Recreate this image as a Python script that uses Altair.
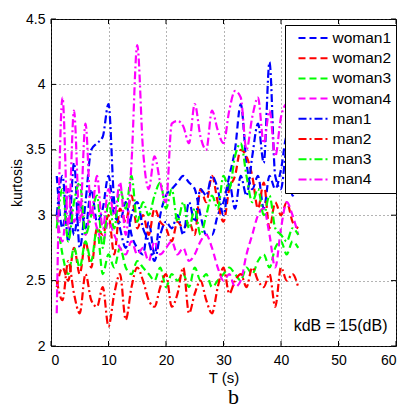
import altair as alt
import pandas as pd

T = list(range(1, 44))
woman1 = [3.3, 2.9, 3.2, 2.85, 3.1, 2.9, 3.2, 2.95, 3.05, 3.3, 3.0, 2.95, 3.1, 2.85, 2.75, 2.7, 2.95, 2.7, 3.0, 3.15, 3.2, 3.25, 3.3, 3.25, 3.2, 3.0, 2.85, 2.85, 3.0, 3.1, 3.3, 3.5, 3.85, 3.4, 3.2, 3.3, 3.05, 3.3, 3.2, 3.35, 3.6, 3.3, 3.4]
woman2 = [2.45, 2.6, 2.5, 2.75, 2.55, 2.8, 2.6, 2.9, 2.85, 3.0, 2.7, 3.05, 2.95, 3.15, 2.9, 3.0, 2.85, 3.05, 2.95, 2.9, 2.8, 2.95, 2.9, 2.95, 2.85, 3.2, 3.1, 3.3, 3.1, 2.95, 3.2, 3.3, 3.5, 3.45, 3.3, 3.05, 3.25, 2.9, 3.1, 3.0, 3.1, 2.95, 2.9]
woman3 = [3.0, 2.7, 2.55, 2.75, 2.6, 2.8, 2.65, 2.9, 2.55, 2.7, 2.6, 2.75, 2.6, 2.55, 2.65, 2.6, 2.55, 2.5, 2.6, 2.45, 2.55, 2.5, 2.55, 2.45, 2.6, 2.5, 2.55, 2.45, 2.5, 2.55, 2.6, 2.55, 2.5, 2.6, 2.55, 2.65, 2.7, 2.6, 2.75, 2.8, 2.7, 2.8, 2.75]
woman4 = [3.0, 2.8, 3.2, 2.95, 3.1, 2.85, 3.05, 2.9, 2.8, 2.95, 2.85, 2.75, 2.7, 2.8, 2.7, 2.75, 2.65, 2.8, 2.7, 2.75, 2.8, 2.7, 2.75, 2.65, 2.7, 2.8, 2.85, 2.75, 2.6, 2.5, 2.55, 2.45, 2.5, 2.7, 2.85, 3.0, 3.05, 2.85, 2.6, 2.9, 3.1, 3.0, 2.85]
man1 = [3.0, 3.3, 2.8, 3.4, 2.75, 3.1, 3.5, 3.55, 3.6, 3.85, 3.1, 2.9, 2.75, 3.0, 3.1, 2.9, 2.8, 2.65, 2.85, 2.95, 2.9, 3.0, 2.85, 3.1, 2.95, 3.2, 3.15, 3.3, 3.2, 3.0, 3.25, 3.05, 3.3, 3.15, 3.45, 3.7, 3.4, 4.17, 3.3, 3.2, 3.5, 3.15, 3.3]
man2 = [2.5, 2.35, 2.65, 2.4, 2.25, 2.55, 2.35, 2.3, 2.45, 2.15, 2.4, 2.55, 2.2, 2.45, 2.6, 2.5, 2.35, 2.3, 2.45, 2.55, 2.3, 2.4, 2.6, 2.25, 2.4, 2.5, 2.35, 2.25, 2.45, 2.6, 2.4, 2.5, 2.55, 2.45, 2.6, 2.5, 2.45, 2.55, 2.3, 2.6, 2.5, 2.55, 2.45]
man3 = [2.9, 3.2, 2.8, 3.1, 3.25, 2.85, 3.0, 3.15, 2.75, 3.1, 2.9, 3.2, 3.05, 3.3, 2.95, 3.1, 3.0, 3.15, 3.25, 3.05, 3.2, 2.95, 3.1, 2.9, 3.05, 2.85, 3.0, 3.15, 3.05, 3.3, 3.2, 3.45, 3.55, 3.3, 3.1, 3.2, 3.0, 3.15, 2.9, 2.85, 2.8, 2.9, 2.85]
man4 = [2.25, 3.9, 2.9, 3.8, 2.95, 3.7, 3.0, 3.3, 2.9, 3.2, 3.0, 3.25, 2.85, 3.4, 4.3, 3.5, 3.2, 3.45, 3.25, 3.1, 3.7, 3.72, 3.68, 3.55, 3.85, 3.6, 3.5, 3.8, 3.65, 3.55, 3.8, 3.95, 3.9, 3.5, 3.75, 3.9, 3.55, 3.8, 3.45, 3.75, 3.85, 3.7, 3.9]

series_names = ["woman1", "woman2", "woman3", "woman4", "man1", "man2", "man3", "man4"]
series_values = [woman1, woman2, woman3, woman4, man1, man2, man3, man4]
x_ticks = [0, 10, 20, 30, 40, 50, 60]
y_ticks = [2, 2.5, 3, 3.5, 4, 4.5]
note = "kdB = 15(dB)"
note_pos = [42.2, 2.15]

colors = ["#0000ff", "#ff0000", "#00ff00", "#ff00ff"] * 2
dashes = [[7, 4]] * 4 + [[8, 3, 2, 3]] * 4

rows = []
for name, vals in zip(series_names, series_values):
    for t, v in zip(T, vals):
        rows.append({"T": t, "kurtosis": v, "series": name})
df = pd.DataFrame(rows)

W, H = 345, 327
FONT = "Liberation Sans"
xs = alt.Scale(domain=[0, 60], nice=False, zero=False)
ys = alt.Scale(domain=[2, 4.5], nice=False, zero=False)

legend = alt.Legend(
    title=None, orient="none", legendX=234, legendY=6,
    fillColor="white", strokeColor="black", padding=4.5, rowPadding=3.2,
    symbolType="M-1,0H3", symbolSize=225, symbolStrokeWidth=2, symbolOffset=8,
    labelFontSize=15.5, labelFont=FONT, labelColor="black", labelOffset=18,
    labelLimit=200,
)

lines = alt.Chart(df).mark_line(strokeWidth=2.2, interpolate="monotone").encode(
    x=alt.X("T:Q", scale=xs, axis=alt.Axis(
        title="T (s)", values=x_ticks, grid=True, format="d",
        labelPadding=7, titlePadding=3)),
    y=alt.Y("kurtosis:Q", scale=ys, axis=alt.Axis(
        title="kurtosis", values=y_ticks, grid=True, format="~g",
        labelPadding=6, titlePadding=1.5, titleFontSize=14)),
    color=alt.Color("series:N", scale=alt.Scale(domain=series_names, range=colors), legend=legend),
    strokeDash=alt.StrokeDash("series:N", scale=alt.Scale(domain=series_names, range=dashes), legend=legend),
)

xt = pd.DataFrame({"T": x_ticks})
yt = pd.DataFrame({"kurtosis": y_ticks})
tick_x_bottom = alt.Chart(xt).mark_rule(color="black", strokeWidth=1).encode(
    x=alt.X("T:Q", scale=xs), y=alt.value(H), y2=alt.value(H - 5))
tick_x_top = alt.Chart(xt).mark_rule(color="black", strokeWidth=1).encode(
    x=alt.X("T:Q", scale=xs), y=alt.value(0), y2=alt.value(5))
tick_y_left = alt.Chart(yt).mark_rule(color="black", strokeWidth=1).encode(
    y=alt.Y("kurtosis:Q", scale=ys), x=alt.value(0), x2=alt.value(5))
tick_y_right = alt.Chart(yt).mark_rule(color="black", strokeWidth=1).encode(
    y=alt.Y("kurtosis:Q", scale=ys), x=alt.value(W), x2=alt.value(W - 5))

note_df = pd.DataFrame({"T": [note_pos[0]], "kurtosis": [note_pos[1]], "label": [note]})
note_layer = alt.Chart(note_df).mark_text(
    align="left", baseline="middle", font=FONT, fontSize=16, color="black"
).encode(x=alt.X("T:Q", scale=xs), y=alt.Y("kurtosis:Q", scale=ys), text="label:N")

chart = alt.layer(
    lines, tick_x_bottom, tick_x_top, tick_y_left, tick_y_right, note_layer
).properties(
    width=W, height=H,
    background="white",
    autosize=alt.AutoSizeParams(type="none"),
    padding={"left": 43, "top": 11, "right": 8, "bottom": 62},
    title=alt.TitleParams("b", orient="bottom", anchor="middle", font="Liberation Serif",
                          fontSize=22, fontWeight="normal", color="black", offset=2, dx=10),
).configure_view(
    stroke="black", strokeWidth=1
).configure_axis(
    domain=False, ticks=False, labelFont=FONT, labelFontSize=14, labelColor="black",
    titleFont=FONT, titleFontSize=15, titleFontWeight="normal", titleColor="black",
    gridColor="#444444", gridDash=[1, 3], gridOpacity=0.8, gridWidth=1,
)

chart.save("out.html", embed_options={"renderer": "svg", "actions": False})
